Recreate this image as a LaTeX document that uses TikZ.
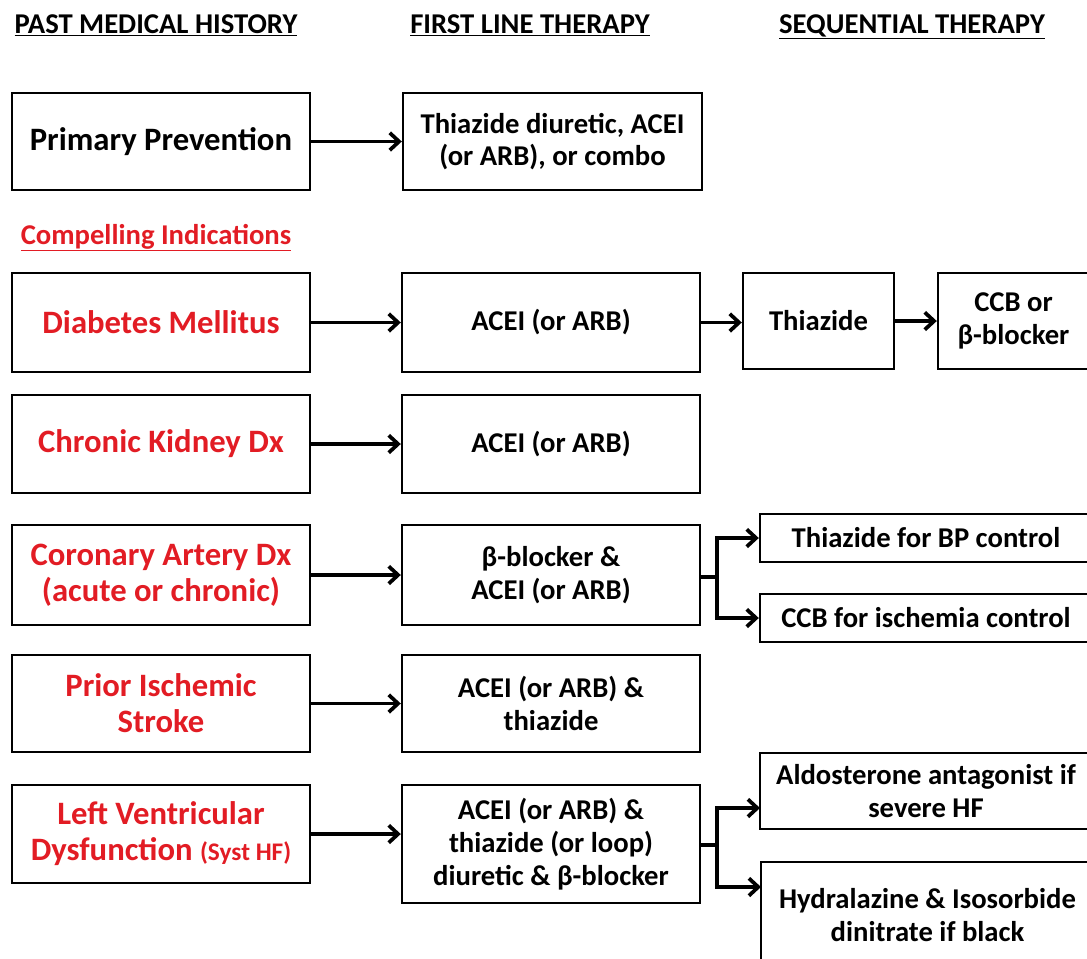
\documentclass[tikz,border=0pt]{standalone}
\usepackage{fontspec}
\setmainfont{Carlito}
\usetikzlibrary{arrows.meta}
\definecolor{cired}{RGB}{226,28,36}
\begin{document}
\begin{tikzpicture}[x=0.75pt,y=-0.75pt,
  rect/.style n args={4}{minimum width={(#3-#1)*0.75pt}, minimum height={(#4-#2)*0.75pt},
    at={({(#1+#3)/2},{(#2+#4)/2})}},
  box/.style={draw, line width=1.8pt, inner sep=0pt, align=center, text=black,
    font=\bfseries\fontsize{21.5}{24.5}\selectfont},
  lbox/.style={box, text=cired, font=\bfseries\fontsize{24.5}{27}\selectfont},
  pbox/.style={box, font=\bfseries\fontsize{24.5}{27}\selectfont},
  hdr/.style={anchor=base, inner sep=0pt, font=\bfseries\fontsize{21.5}{24}\selectfont},
  link/.style={line width=2.8pt},
  arr/.style={link, -{Straight Barb[length=7pt,width=13pt]}}]
\useasboundingbox (0,0) rectangle (1087,958);
\clip (0,0) rectangle (1087,958);
% headers
\node[hdr] (h1) at (156,33) {\underline{PAST MEDICAL HISTORY}};
\node[hdr] (h2) at (530,33) {\underline{FIRST LINE THERAPY}};
\node[hdr] (h3) at (912,33) {\underline{SEQUENTIAL THERAPY}};
\node[hdr, text=cired] (ci) at (156,244) {\underline{Compelling Indications}};
% left column
\node[pbox, rect={12}{93}{310}{190}] (pp) {Primary Prevention};
\node[lbox, rect={12}{273}{310}{372}] (dm) {Diabetes Mellitus};
\node[lbox, rect={12}{395}{310}{493}] (ck) {Chronic Kidney Dx};
\node[lbox, rect={12}{525}{310}{625}] (cad) {Coronary Artery Dx\\(acute or chronic)};
\node[lbox, rect={12}{655}{310}{752}] (st) {Prior Ischemic\\Stroke};
\node[lbox, rect={12}{785}{310}{883}] (lv) {Left Ventricular\\Dysfunction {\fontsize{19}{20}\selectfont(Syst HF)}};
% first line
\node[box, rect={403}{93}{702}{190}] (pf) {Thiazide diuretic, ACEI\\(or ARB), or combo};
\node[box, rect={402}{273}{700}{372}] (dmf) {ACEI (or ARB)};
\node[box, rect={402}{395}{700}{493}] (ckf) {ACEI (or ARB)};
\node[box, rect={402}{525}{700}{625}] (cadf) {β-blocker \&\\ACEI (or ARB)};
\node[box, rect={402}{655}{700}{752}] (stf) {ACEI (or ARB) \&\\thiazide};
\node[box, rect={402}{785}{700}{903}] (lvf) {ACEI (or ARB) \&\\thiazide (or loop)\\diuretic \& β-blocker};
% sequential
\node[box, rect={743}{273}{894}{369}] (th) {Thiazide};
\node[box, rect={938}{273}{1089}{369}] (ccb) {CCB or\\β-blocker};
\node[box, rect={760}{514}{1092}{562}] (thbp) {Thiazide for BP control};
\node[box, rect={760}{594}{1092}{642}] (ccbi) {CCB for ischemia control};
\node[box, rect={760}{753}{1092}{829}] (ald) {Aldosterone antagonist if\\severe HF};
\node[box, rect={761}{862}{1094}{968}] (hyd) {Hydralazine \& Isosorbide\\dinitrate if black};
% connectors
\draw[arr] (pp.east) -- (pf.west);
\draw[arr] (dm.east) -- (dmf.west);
\draw[arr] (dmf.east) -- (dmf.east -| th.west);
\draw[arr] (th.east) -- (th.east -| ccb.west);
\draw[arr] (ck.east) -- (ckf.west);
\draw[arr] (cad.east) -- (cadf.west);
\draw[arr] (st.east) -- (stf.west);
\draw[arr] (lv.east) -- (lv.east -| lvf.west);
\coordinate (cj) at (717,577);
\draw[link] (cadf.east |- cj) -- (cj);
\draw[arr] (cj) |- (thbp.west);
\draw[arr] (cj) |- (ccbi.west);
\coordinate (lj) at (717,845);
\coordinate (la) at (760,808);
\coordinate (lh) at (761,887);
\draw[link] (lvf.east |- lj) -- (lj);
\draw[arr] (lj) |- (la);
\draw[arr] (lj) |- (lh);
\end{tikzpicture}
\end{document}
